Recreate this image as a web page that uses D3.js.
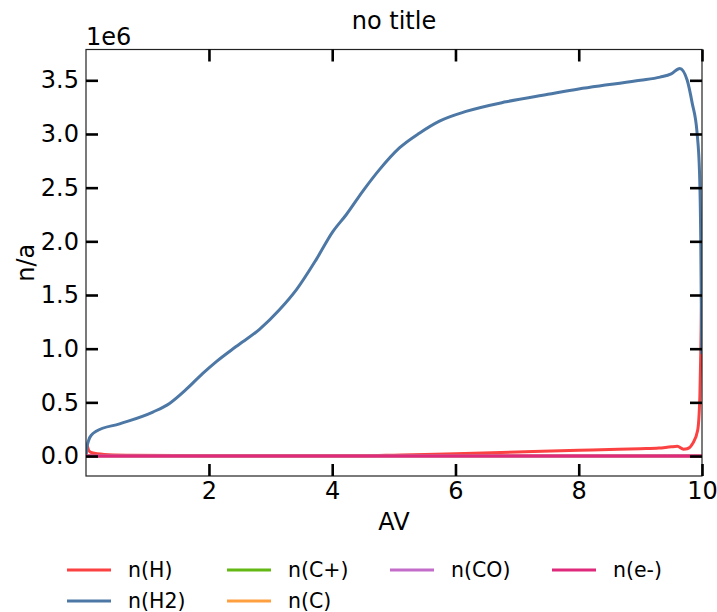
<!DOCTYPE html>
<html>
<head>
<meta charset="utf-8">
<script src="https://cdn.jsdelivr.net/npm/d3@7"></script>
<style>
  html, body { margin: 0; padding: 0; background: #fff; }
  text { font-family: "DejaVu Sans", sans-serif; fill: #000; }
</style>
</head>
<body>
<svg id="chart" width="717" height="612"></svg>
<script>
// ---------------- data ----------------
const seriesNames = ["n(H)", "n(H2)", "n(C+)", "n(C)", "n(CO)", "n(e-)"];
const seriesColors = ["#fb4141", "#4d78a5", "#63b814", "#ffa040", "#c46cca", "#df2a7c"];

const avH = [0.005, 0.02, 0.05, 0.1, 0.3, 0.7, 1.5, 3, 4, 4.5, 5, 5.5, 6, 7, 8, 8.5, 9, 9.3, 9.5, 9.6, 9.7, 9.76, 9.85, 9.93, 9.965, 9.98, 9.995];
const nH  = [0.02e6, 0.1e6, 0.05e6, 0.03e6, 0.015e6, 0.008e6, 0.004e6, 0.002e6, 0.002e6, 0.003e6, 0.008e6, 0.014e6, 0.022e6, 0.038e6, 0.053e6, 0.06e6, 0.068e6, 0.074e6, 0.086e6, 0.09e6, 0.064e6, 0.068e6, 0.118e6, 0.24e6, 0.55e6, 0.96e6, 1.52e6];

const avH2 = [0.005, 0.02, 0.05, 0.1, 0.17, 0.55, 1.09, 1.36, 1.63, 1.9, 2.12, 2.44, 2.82, 3.14, 3.42, 3.74, 4.01, 4.23, 4.5, 4.77, 5.09, 5.42, 5.74, 6.17, 6.82, 7.5, 8, 8.5, 9, 9.32, 9.5, 9.64, 9.76, 9.84, 9.92, 9.96, 9.98, 9.995];
const nH2  = [0.0e6, 0.08e6, 0.15e6, 0.2e6, 0.23e6, 0.3e6, 0.41e6, 0.49e6, 0.62e6, 0.77e6, 0.88e6, 1.02e6, 1.18e6, 1.36e6, 1.55e6, 1.83e6, 2.09e6, 2.25e6, 2.47e6, 2.67e6, 2.87e6, 3.01e6, 3.12e6, 3.21e6, 3.3e6, 3.37e6, 3.42e6, 3.46e6, 3.5e6, 3.53e6, 3.56e6, 3.61e6, 3.5e6, 3.29e6, 3.01e6, 2.64e6, 2.0e6, 0.96e6];

const avFlat = [0.005, 2, 4, 6, 8, 10];
const nCplus = [0, 0, 0, 0, 0, 0];
const nC     = [0, 0, 0, 0, 0, 0];
const nCO    = [0, 0, 0, 0, 0, 0];
const nE     = [0, 0, 0, 0, 0, 0];

const xTicks = [2, 4, 6, 8, 10];
const yTicks = [0, 0.5e6, 1.0e6, 1.5e6, 2.0e6, 2.5e6, 3.0e6, 3.5e6];

const chartTitle = "no title";
const xLabel = "AV";
const yLabel = "n/a";
const offsetLabel = "1e6";

// ---------------- layout ----------------
const svg = d3.select("#chart");
const L = 86, R = 702, T = 49.5, B = 476;
const FS = 24;

const x = d3.scaleLinear().domain([0.005, 10]).range([L, R]);
const y = d3.scaleLinear().domain([-0.186e6, 3.787e6]).range([B, T]);

const seriesData = [
  [avH, nH], [avH2, nH2], [avFlat, nCplus], [avFlat, nC], [avFlat, nCO], [avFlat, nE]
];

svg.append("defs").append("clipPath").attr("id", "clip")
  .append("rect").attr("x", L).attr("y", T).attr("width", R - L).attr("height", B - T);

const line = d3.line().x(d => x(d[0])).y(d => y(d[1])).curve(d3.curveMonotoneX);

const plot = svg.append("g").attr("clip-path", "url(#clip)");
seriesData.forEach((s, i) => {
  const pts = s[0].map((a, j) => [a, s[1][j]]);
  plot.append("path").datum(pts)
    .attr("d", line)
    .attr("fill", "none")
    .attr("stroke", seriesColors[i])
    .attr("stroke-width", 3)
    .attr("stroke-linejoin", "round")
    .attr("stroke-linecap", "round");
});

// spines
svg.append("rect").attr("x", L).attr("y", T).attr("width", R - L).attr("height", B - T)
  .attr("fill", "none").attr("stroke", "#222").attr("stroke-width", 1.2);

// axes (ticks inward)
const tickLen = 12;
const fmt = d => (d / 1e6).toFixed(1);

const xb = svg.append("g").attr("transform", `translate(0,${B})`)
  .call(d3.axisBottom(x).tickValues(xTicks).tickSizeInner(-tickLen).tickSizeOuter(0).tickPadding(6).tickFormat(d3.format("d")));
const xt = svg.append("g").attr("transform", `translate(0,${T})`)
  .call(d3.axisTop(x).tickValues(xTicks).tickSizeInner(-tickLen).tickSizeOuter(0).tickFormat(""));
const yl = svg.append("g").attr("transform", `translate(${L},0)`)
  .call(d3.axisLeft(y).tickValues(yTicks).tickSizeInner(-tickLen).tickSizeOuter(0).tickPadding(7).tickFormat(fmt));
const yr = svg.append("g").attr("transform", `translate(${R},0)`)
  .call(d3.axisRight(y).tickValues(yTicks).tickSizeInner(-tickLen).tickSizeOuter(0).tickFormat(""));

[xb, xt, yl, yr].forEach(g => {
  g.select(".domain").remove();
  g.selectAll(".tick line").attr("stroke", "#000").attr("stroke-width", 2.6);
  g.selectAll(".tick text").attr("font-family", "DejaVu Sans").attr("font-size", FS).attr("fill", "#000");
});

// texts
svg.append("text").attr("x", (L + R) / 2).attr("y", 29).attr("text-anchor", "middle")
  .attr("font-size", FS).text(chartTitle);
svg.append("text").attr("x", L).attr("y", 45).attr("text-anchor", "start")
  .attr("font-size", FS).text(offsetLabel);
svg.append("text").attr("x", (L + R) / 2).attr("y", 530).attr("text-anchor", "middle")
  .attr("font-size", FS).text(xLabel);
svg.append("text").attr("transform", `translate(34,${(T + B) / 2}) rotate(-90)`)
  .attr("text-anchor", "middle").attr("font-size", FS).text(yLabel);

// legend
const legCols = [67, 227, 390, 552];
const legRows = [570, 601];
const legOrder = [[0, 0, 0], [1, 1, 0], [2, 0, 1], [3, 1, 1], [4, 0, 2], [5, 0, 3]]; // [series, row, col]
const leg = svg.append("g");
legOrder.forEach(([si, r, c]) => {
  const lx = legCols[c], ly = legRows[r];
  leg.append("line").attr("x1", lx).attr("x2", lx + 44).attr("y1", ly).attr("y2", ly)
    .attr("stroke", seriesColors[si]).attr("stroke-width", 3);
  leg.append("text").attr("x", lx + 61).attr("y", ly).attr("dy", "0.36em")
    .attr("font-size", 20.5).text(seriesNames[si]);
});
</script>
</body>
</html>
